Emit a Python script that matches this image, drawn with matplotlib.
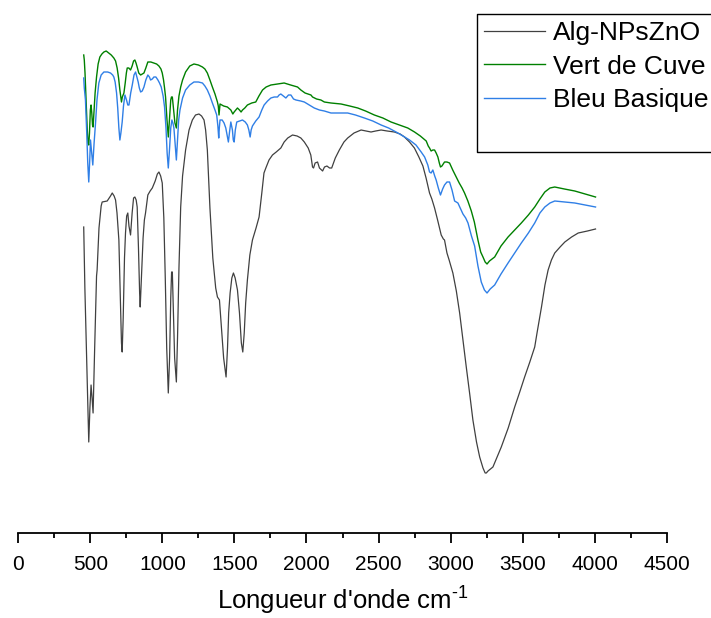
import matplotlib
matplotlib.use("Agg")
import matplotlib.pyplot as plt
from matplotlib.lines import Line2D
from matplotlib.ticker import MultipleLocator

plt.rcParams["font.family"] = ["Liberation Sans", "DejaVu Sans"]
plt.rcParams["mathtext.fontset"] = "custom"
plt.rcParams["mathtext.rm"] = "Liberation Sans"
plt.rcParams["mathtext.default"] = "regular"

# ---- FTIR spectra (wavenumber cm-1, transmittance a.u.) ----
alg_x = [454, 462, 489, 497, 505, 512, 519, 530, 543, 547, 560, 575, 582, 617, 640, 652, 665, 675,
         685, 698, 708, 716, 721, 728, 737, 744, 752, 760, 768, 779, 790, 800, 809, 818, 825, 834,
         842, 846, 850, 856, 866, 875, 883, 899, 915, 930, 950, 965, 976, 988, 999, 1010, 1020, 1030,
         1041, 1050, 1058, 1064, 1069, 1076, 1085, 1097, 1105, 1115, 1127, 1140, 1161, 1185, 1208,
         1230, 1254, 1272, 1289, 1300, 1312, 1330, 1350, 1370, 1382, 1396, 1410, 1425, 1442, 1452,
         1460, 1470, 1482, 1493, 1505, 1521, 1535, 1548, 1558, 1568, 1578, 1590, 1607, 1625, 1650,
         1671, 1690, 1705, 1718, 1740, 1764, 1790, 1822, 1845, 1870, 1903, 1935, 1961, 1985, 2012,
         2030, 2042, 2049, 2060, 2077, 2090, 2105, 2112, 2125, 2142, 2160, 2175, 2200, 2228, 2260,
         2286, 2330, 2379, 2415, 2448, 2480, 2518, 2560, 2610, 2650, 2680, 2715, 2749, 2780, 2808,
         2830, 2854, 2870, 2889, 2910, 2935, 2950, 2958, 2975, 2990, 3016, 3040, 3063, 3086, 3109,
         3132, 3155, 3180, 3202, 3225, 3240, 3248, 3260, 3294, 3320, 3352, 3400, 3445, 3480, 3514,
         3550, 3584, 3600, 3631, 3655, 3677, 3700, 3723, 3760, 3793, 3840, 3886, 3950, 4006]
alg_y = [311, 250, 96, 130, 153, 140, 125, 190, 262, 268, 310, 332, 336, 337, 342, 345, 342, 338,
         325, 298, 240, 195, 186, 220, 280, 305, 322, 325, 312, 303, 325, 340, 341, 338, 331, 290,
         245, 231, 245, 265, 300, 318, 325, 343, 347, 350, 357, 364, 366, 362, 355, 320, 260, 190,
         145, 180, 240, 266, 266, 230, 180, 156, 200, 270, 331, 362, 388, 408, 418,
         423, 424, 422, 418, 408, 388, 330, 280, 250, 241, 238, 210, 180, 161, 190,
         225, 245, 260, 265, 260, 248, 225, 195, 186, 205, 235, 258, 283, 298, 310,
         321, 345, 365, 370, 378, 383, 386, 390, 396, 400, 403, 402, 400, 396, 390,
         383, 371, 370, 375, 376, 370, 368, 367, 371, 372, 370, 370, 380, 388, 396,
         400, 405, 408, 407, 406, 407, 408, 407, 406, 404, 401, 396, 390, 381, 372,
         360, 345, 339, 330, 318, 303, 299, 298, 285, 278, 265, 247, 225, 198, 171,
         145, 118, 96, 81, 70, 65, 65, 67, 71, 80, 91, 110, 131, 146, 161,
         176, 191, 205, 231, 253, 268, 278, 285, 291, 296, 301, 305, 307, 309]

vert_x = [454, 458, 463, 470, 478, 484, 489, 494, 500, 505, 510, 515, 519, 525, 533, 543, 554, 566,
          580, 594, 610, 628, 645, 663, 675, 686, 696, 705, 712, 716, 722, 733, 742, 750, 756, 767,
          779, 790, 800, 809, 817, 825, 836, 849, 860, 872, 885, 899, 920, 941, 960, 976, 990, 999,
          1008, 1015, 1022, 1032, 1041, 1050, 1058, 1063, 1069, 1078, 1087, 1097, 1105, 1115, 1127,
          1140, 1161, 1190, 1219, 1250, 1278, 1295, 1312, 1330, 1347, 1365, 1382, 1388, 1393, 1397,
          1400, 1425, 1451, 1475, 1489, 1498, 1510, 1521, 1535, 1546, 1556, 1572, 1590, 1620, 1648,
          1670, 1695, 1720, 1753, 1800, 1845, 1890, 1938, 1961, 1990, 2031, 2042, 2070, 2100, 2124,
          2170, 2240, 2300, 2356, 2410, 2471, 2530, 2587, 2645, 2703, 2750, 2790, 2815, 2831, 2845,
          2854, 2865, 2877, 2889, 2900, 2912, 2922, 2930, 2940, 2958, 2975, 2993, 3015, 3039, 3060,
          3080, 3097, 3120, 3144, 3165, 3190, 3209, 3225, 3240, 3253, 3270, 3306, 3350, 3399, 3445,
          3491, 3540, 3584, 3620, 3654, 3690, 3723, 3790, 3862, 3935, 4006]
vert_y = [483, 478, 465, 440, 410, 395, 393, 405, 428, 433, 425, 413, 411, 425, 445, 461, 474, 481,
          484, 486, 487, 485, 483, 480, 477, 470, 460, 448, 440, 436, 441, 445, 455, 465, 470, 470,
          468, 472, 477, 478, 475, 471, 465, 463, 464, 465, 470, 476, 476, 475, 474, 472, 469, 465,
          458, 450, 441, 418, 401, 420, 438, 441, 441, 428, 415, 410, 428, 442, 451,
          458, 466, 472, 474, 473, 471, 469, 465, 458, 451, 444, 436, 432, 423, 430,
          434, 432, 431, 428, 424, 426, 428, 430, 428, 426, 428, 430, 433, 435, 436,
          442, 448, 451, 453, 454, 455, 453, 451, 448, 445, 443, 441, 439, 438, 436,
          435, 434, 432, 430, 427, 423, 420, 416, 413, 410, 406, 402, 399, 397, 392,
          390, 387, 388, 388, 385, 381, 375, 371, 372, 376, 376, 375, 368, 361, 355,
          350, 345, 337, 327, 316, 298, 286, 281, 276, 274, 277, 281, 292, 301, 308,
          315, 323, 331, 339, 346, 350, 351, 349, 347, 344, 341]

bleu_x = [454, 458, 466, 475, 482, 489, 495, 501, 509, 517, 526, 536, 546, 559, 575, 594, 620, 640,
          655, 663, 672, 682, 690, 698, 705, 712, 721, 730, 740, 751, 760, 768, 780, 791, 803, 814,
          823, 832, 840, 849, 860, 872, 885, 899, 910, 918, 930, 941, 955, 969, 980, 992, 1005, 1015,
          1025, 1033, 1041, 1050, 1058, 1066, 1073, 1080, 1088, 1097, 1105, 1113, 1122, 1140, 1161,
          1190, 1219, 1250, 1278, 1295, 1312, 1330, 1347, 1365, 1377, 1385, 1391, 1395, 1400, 1415,
          1428, 1440, 1450, 1458, 1466, 1475, 1486, 1492, 1498, 1506, 1516, 1535, 1556, 1575, 1590,
          1600, 1609, 1616, 1625, 1648, 1671, 1690, 1706, 1730, 1753, 1776, 1799, 1810, 1822, 1840,
          1857, 1875, 1892, 1910, 1927, 1960, 1985, 2020, 2054, 2090, 2124, 2170, 2230, 2286, 2340,
          2402, 2460, 2518, 2570, 2622, 2670, 2715, 2760, 2796, 2820, 2842, 2854, 2865, 2877, 2890,
          2900, 2915, 2930, 2945, 2958, 2975, 2993, 3010, 3028, 3040, 3051, 3070, 3086, 3105, 3121,
          3145, 3167, 3190, 3213, 3235, 3253, 3275, 3306, 3350, 3399, 3445, 3491, 3540, 3584, 3620,
          3654, 3690, 3723, 3790, 3862, 3935, 4006]
bleu_y = [460, 450, 438, 405, 375, 356, 375, 398, 385, 373, 395, 415, 438, 455, 463, 466, 466, 465,
          463, 461, 456, 445, 430, 410, 398, 405, 416, 432, 443, 438, 433, 433, 445, 453, 463, 466,
          461, 456, 450, 446, 447, 451, 458, 463, 461, 458, 459, 461, 461, 458, 455, 451, 442, 431,
          410, 385, 370, 390, 410, 418, 415, 410, 395, 378, 398, 418, 428, 440, 448,
          453, 456, 456, 455, 452, 448, 442, 435, 428, 423, 412, 400, 410, 418, 418,
          415, 410, 402, 396, 406, 416, 408, 398, 396, 408, 416, 417, 418, 416, 413,
          408, 401, 408, 412, 417, 421, 428, 433, 437, 440, 441, 441, 443, 444, 442,
          440, 443, 443, 439, 438, 437, 436, 433, 430, 428, 427, 425, 425, 425, 423,
          420, 417, 413, 410, 406, 402, 398, 393, 386, 381, 373, 366, 365, 368, 362,
          358, 350, 343, 349, 353, 356, 356, 348, 337, 336, 335, 329, 324, 320, 315,
          302, 292, 272, 256, 248, 245, 249, 253, 264, 275, 285, 295, 305, 315, 325,
          331, 335, 337, 336, 335, 333, 331]

labels = ["Alg-NPsZnO", "Vert de Cuve", "Bleu Basique"]
colors = ["#404040", "#008000", "#2f7fe6"]

fig = plt.figure(figsize=(7.11, 6.18), dpi=100)
ax = fig.add_axes([18.3 / 711, (618 - 533.3) / 618, 648.4 / 711, 533.3 / 618])

ax.plot(alg_x, alg_y, color=colors[0], lw=0.9, label=labels[0])
ax.plot(vert_x, vert_y, color=colors[1], lw=1.0, label=labels[1])
ax.plot(bleu_x, bleu_y, color=colors[2], lw=1.0, label=labels[2])

ax.set_xlim(0, 4500)
ax.set_ylim(538 - 533.3, 538)
ax.xaxis.set_major_locator(MultipleLocator(500))
ax.xaxis.set_minor_locator(MultipleLocator(250))
for s in ["top", "left", "right"]:
    ax.spines[s].set_visible(False)
ax.spines["bottom"].set_linewidth(1.3)
ax.set_yticks([])
ax.tick_params(axis="x", which="major", length=7.2, width=1.3, labelsize=15, pad=8.3)
ax.tick_params(axis="x", which="minor", length=3.6, width=1.3)
ax.set_xlabel("Longueur d'onde cm$^{\u2010 1}$", fontsize=18.5, labelpad=7.8)

# legend without its own frame, anchored at the box's top-left corner
handles = ax.get_legend_handles_labels()[0]
leg = fig.legend(handles, labels, loc="upper left",
                 bbox_to_anchor=(477 / 711, 1 - 14 / 618), bbox_transform=fig.transFigure,
                 borderaxespad=0, fontsize=19, frameon=False,
                 borderpad=0.27, labelspacing=0.36, handlelength=2.3, handletextpad=0.3)

# open box (top, left, bottom), runs off the right edge
box_left, box_top, box_bottom = 477 / 711, 1 - 14 / 618, 1 - 152 / 618
fig.add_artist(Line2D([1.05, box_left, box_left, 1.05], [box_top, box_top, box_bottom, box_bottom],
                      transform=fig.transFigure, color="black", lw=1.0, zorder=10))

fig.savefig("out.png", dpi=100)
